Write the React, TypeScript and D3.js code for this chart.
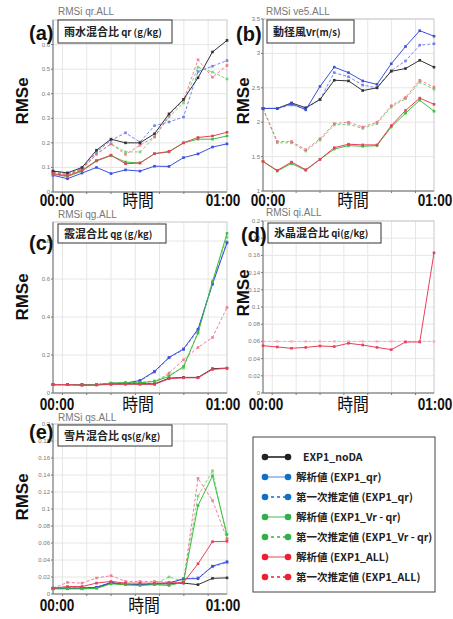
import React from "react";
import * as d3 from "d3";

// time steps 00:00 .. 01:00 every 5 minutes
const steps = d3.range(13);
const vGrid = d3.range(7).map((k) => 0.65 + 1.675 * k);

// (a) rain mixing ratio qr
const qrNoDA = [0.085, 0.078, 0.10, 0.17, 0.215, 0.20, 0.20, 0.237, 0.318, 0.377, 0.465, 0.57, 0.617];
const qrQrAna = [0.068, 0.054, 0.077, 0.10, 0.075, 0.09, 0.085, 0.105, 0.104, 0.14, 0.155, 0.183, 0.196];
const qrQrFg = [0.085, 0.075, 0.095, 0.163, 0.21, 0.241, 0.203, 0.27, 0.285, 0.305, 0.49, 0.512, 0.535];
const qrVrAna = [0.072, 0.063, 0.085, 0.126, 0.148, 0.122, 0.118, 0.156, 0.163, 0.2, 0.215, 0.215, 0.228];
const qrVrFg = [0.08, 0.07, 0.092, 0.156, 0.196, 0.163, 0.163, 0.224, 0.305, 0.362, 0.508, 0.488, 0.46];
const qrAllAna = [0.075, 0.066, 0.088, 0.128, 0.15, 0.115, 0.118, 0.156, 0.165, 0.2, 0.222, 0.228, 0.243];
const qrAllFg = [0.08, 0.07, 0.092, 0.153, 0.196, 0.153, 0.19, 0.224, 0.312, 0.373, 0.538, 0.467, 0.515];

// (b) radial wind Vr
const vrNoDA = [2.2, 2.2, 2.28, 2.21, 2.33, 2.61, 2.6, 2.46, 2.5, 2.74, 2.78, 2.9, 2.8];
const vrQrAna = [2.2, 2.2, 2.27, 2.18, 2.52, 2.8, 2.72, 2.6, 2.55, 2.85, 3.1, 3.33, 3.25];
const vrQrFg = [2.2, 2.2, 2.25, 2.2, 2.33, 2.72, 2.66, 2.54, 2.5, 2.75, 2.89, 3.12, 3.14];
const vrVrAna = [1.43, 1.29, 1.4, 1.3, 1.46, 1.61, 1.66, 1.65, 1.66, 1.93, 2.13, 2.32, 2.16];
const vrVrFg = [2.2, 1.7, 1.7, 1.58, 1.74, 1.96, 1.97, 1.91, 1.98, 2.22, 2.34, 2.58, 2.48];
const vrAllAna = [1.43, 1.3, 1.42, 1.31, 1.46, 1.63, 1.68, 1.67, 1.67, 1.95, 2.17, 2.35, 2.26];
const vrAllFg = [2.2, 1.72, 1.72, 1.6, 1.76, 1.98, 2.0, 1.93, 2.0, 2.24, 2.36, 2.61, 2.51];

// (c) graupel mixing ratio qg
const qgNoDA = [0.044, 0.044, 0.043, 0.043, 0.047, 0.048, 0.048, 0.048, 0.078, 0.082, 0.082, 0.128, 0.131];
const qgQrAna = [0.044, 0.044, 0.043, 0.044, 0.05, 0.052, 0.066, 0.114, 0.187, 0.232, 0.336, 0.573, 0.79];
const qgQrFg = [0.044, 0.044, 0.043, 0.044, 0.05, 0.052, 0.064, 0.11, 0.185, 0.228, 0.33, 0.576, 0.795];
const qgVrAna = [0.044, 0.044, 0.043, 0.044, 0.052, 0.054, 0.054, 0.061, 0.087, 0.14, 0.315, 0.585, 0.84];
const qgVrFg = [0.044, 0.044, 0.043, 0.044, 0.052, 0.054, 0.056, 0.064, 0.096, 0.131, 0.323, 0.59, 0.82];
const qgAllAna = [0.044, 0.044, 0.042, 0.042, 0.045, 0.046, 0.046, 0.045, 0.075, 0.08, 0.08, 0.124, 0.13];
const qgAllFg = [0.044, 0.044, 0.043, 0.044, 0.05, 0.05, 0.05, 0.052, 0.105, 0.175, 0.24, 0.292, 0.45];

// (d) ice mixing ratio qi
const qiAllAna = [0.055, 0.0535, 0.052, 0.053, 0.0547, 0.054, 0.0578, 0.0558, 0.053, 0.0504, 0.0593, 0.0593, 0.163];
const qiAllFg = [0.06, 0.06, 0.06, 0.06, 0.06, 0.06, 0.06, 0.06, 0.06, 0.06, 0.06, 0.06, 0.06];

// (e) snow mixing ratio qs
const qsNoDA = [0.0068, 0.0068, 0.0068, 0.0076, 0.0128, 0.011, 0.011, 0.0116, 0.012, 0.0128, 0.011, 0.0184, 0.019];
const qsQrAna = [0.0068, 0.0068, 0.0068, 0.0078, 0.0136, 0.011, 0.011, 0.012, 0.0128, 0.018, 0.018, 0.0328, 0.038];
const qsQrFg = [0.0068, 0.0068, 0.0068, 0.008, 0.0135, 0.0115, 0.0112, 0.0122, 0.013, 0.0178, 0.019, 0.032, 0.037];
const qsVrAna = [0.006, 0.006, 0.006, 0.0065, 0.012, 0.011, 0.01, 0.011, 0.01, 0.014, 0.104, 0.139, 0.07];
const qsVrFg = [0.006, 0.007, 0.007, 0.0075, 0.0125, 0.0115, 0.011, 0.012, 0.02, 0.015, 0.115, 0.145, 0.065];
const qsAllAna = [0.0068, 0.0088, 0.0088, 0.0128, 0.0148, 0.0128, 0.0128, 0.0128, 0.0128, 0.0136, 0.0356, 0.0616, 0.062];
const qsAllFg = [0.0068, 0.0136, 0.0128, 0.0188, 0.0216, 0.0148, 0.0148, 0.0148, 0.014, 0.014, 0.136, 0.11, 0.065];

const ticksA = [0, 0.1, 0.2, 0.3, 0.4, 0.5, 0.6];
const ticksB = [1, 1.5, 2, 2.5, 3, 3.5];
const ticksC = [0, 0.2, 0.4, 0.6, 0.8];
const ticksSmall = [0, 0.02, 0.04, 0.06, 0.08, 0.1, 0.12, 0.14, 0.16, 0.18, 0.2];

const legendLabels = [
  "EXP1_noDA",
  "解析値 (EXP1_qr)",
  "第一次推定値 (EXP1_qr)",
  "解析値 (EXP1_Vr - qr)",
  "第一次推定値 (EXP1_Vr - qr)",
  "解析値 (EXP1_ALL)",
  "第一次推定値 (EXP1_ALL)",
];

type Style = { color: string; dash?: string; opacity?: number };
const styles: Record<string, Style> = {
  noDA: { color: "#333333" },
  qrAna: { color: "#3b4fe0" },
  qrFg: { color: "#5566ee", dash: "3,2", opacity: 0.8 },
  vrAna: { color: "#3cbf3c" },
  vrFg: { color: "#5ccc5c", dash: "3,2", opacity: 0.8 },
  allAna: { color: "#e8405a" },
  allFg: { color: "#f0607c", dash: "3,2", opacity: 0.8 },
  allFgFaint: { color: "#f08aa0", dash: "3,2", opacity: 0.55 },
};
const legendStyles = [
  { color: "#222222", line: "#222222" },
  { color: "#1070c8", line: "#8ab8e4" },
  { color: "#1070c8", line: "#1070c8", dash: "3,3" },
  { color: "#2fb04a", line: "#8fd49a" },
  { color: "#2fb04a", line: "#2fb04a", dash: "3,3" },
  { color: "#ec2030", line: "#f08a90" },
  { color: "#ec2030", line: "#ec2030", dash: "3,3" },
];

const FONT = "'Liberation Sans', 'Noto Sans CJK JP', sans-serif";
const JP = "'Noto Sans CJK JP', 'Liberation Sans', sans-serif";

type PanelDef = {
  left: number; right: number; top: number; bottom: number;
  domain: [number, number]; ticks: number[]; fmt: (v: number) => string;
  series: { key: string; values: number[] }[];
  title: string; titlePos: [number, number];
  letter: string; letterPos: [number, number];
  box: [number, number, number, number]; boxText: [string, string];
  ylab: [number, number];
  xlab: { y: number; start: number; mid: number; end: number };
};

const fmt = (v: number) => d3.format("~g")(v);

const panels: PanelDef[] = [
  {
    left: 53, right: 227, top: 20, bottom: 192, domain: [0, 0.7], ticks: ticksA, fmt,
    series: [
      { key: "qrFg", values: qrQrFg }, { key: "vrFg", values: qrVrFg }, { key: "allFg", values: qrAllFg },
      { key: "noDA", values: qrNoDA }, { key: "qrAna", values: qrQrAna }, { key: "vrAna", values: qrVrAna },
      { key: "allAna", values: qrAllAna },
    ],
    title: "RMSi qr.ALL", titlePos: [58, 15], letter: "(a)", letterPos: [29, 40],
    box: [58, 20, 114, 23], boxText: ["雨水混合比", " qr (g/kg)"], ylab: [22, 101],
    xlab: { y: 206, start: 57, mid: 138, end: 223 },
  },
  {
    left: 263, right: 434, top: 19, bottom: 191, domain: [1, 3.5], ticks: ticksB, fmt,
    series: [
      { key: "qrFg", values: vrQrFg }, { key: "vrFg", values: vrVrFg }, { key: "allFg", values: vrAllFg },
      { key: "noDA", values: vrNoDA }, { key: "qrAna", values: vrQrAna }, { key: "vrAna", values: vrVrAna },
      { key: "allAna", values: vrAllAna },
    ],
    title: "RMSi ve5.ALL", titlePos: [266, 15], letter: "(b)", letterPos: [236, 41],
    box: [267, 20, 87, 23], boxText: ["動径風", "Vr(m/s)"], ylab: [243, 101],
    xlab: { y: 206, start: 268, mid: 353, end: 435 },
  },
  {
    left: 53, right: 227, top: 222, bottom: 393, domain: [0, 0.9], ticks: ticksC, fmt,
    series: [
      { key: "qrFg", values: qgQrFg }, { key: "vrFg", values: qgVrFg }, { key: "allFg", values: qgAllFg },
      { key: "noDA", values: qgNoDA }, { key: "qrAna", values: qgQrAna }, { key: "vrAna", values: qgVrAna },
      { key: "allAna", values: qgAllAna },
    ],
    title: "RMSi qg.ALL", titlePos: [58, 218], letter: "(c)", letterPos: [29, 250],
    box: [58, 224, 108, 19], boxText: ["霰混合比", " qg (g/kg)"], ylab: [22, 297],
    xlab: { y: 410, start: 57, mid: 138, end: 223 },
  },
  {
    left: 263, right: 434, top: 221, bottom: 393, domain: [0, 0.2], ticks: ticksSmall, fmt,
    series: [
      { key: "allFgFaint", values: qiAllFg }, { key: "allAna", values: qiAllAna },
    ],
    title: "RMSi qi.ALL", titlePos: [266, 216], letter: "(d)", letterPos: [241, 242],
    box: [268, 223, 113, 20], boxText: ["氷晶混合比", " qi(g/kg)"], ylab: [243, 293],
    xlab: { y: 410, start: 266, mid: 353, end: 435 },
  },
  {
    left: 53, right: 227, top: 424, bottom: 594, domain: [0, 0.2], ticks: ticksSmall, fmt,
    series: [
      { key: "qrFg", values: qsQrFg }, { key: "vrFg", values: qsVrFg }, { key: "allFg", values: qsAllFg },
      { key: "noDA", values: qsNoDA }, { key: "qrAna", values: qsQrAna }, { key: "vrAna", values: qsVrAna },
      { key: "allAna", values: qsAllAna },
    ],
    title: "RMSi qs.ALL", titlePos: [58, 421], letter: "(e)", letterPos: [29, 439],
    box: [58, 425, 114, 21], boxText: ["雪片混合比", " qs(g/kg)"], ylab: [22, 497],
    xlab: { y: 611, start: 57, mid: 144, end: 223 },
  },
];

function Panel({ p }: { p: PanelDef }) {
  const x = d3.scaleLinear().domain([0, 12]).range([p.left, p.right]);
  const y = d3.scaleLinear().domain(p.domain).range([p.bottom, p.top]);
  const line = d3.line<number>().x((_, i) => x(steps[i])).y((d) => y(d));
  const [bx, by, bw, bh] = p.box;
  return (
    <g>
      {/* grid */}
      {p.ticks.map((t) => (
        <line key={"h" + t} x1={p.left} x2={p.right} y1={y(t)} y2={y(t)} stroke="#e6e6e6" strokeWidth={1} />
      ))}
      {vGrid.map((g) => (
        <line key={"v" + g} x1={x(g)} x2={x(g)} y1={p.top} y2={p.bottom} stroke="#e6e6e6" strokeWidth={1} />
      ))}
      <rect x={p.left} y={p.top} width={p.right - p.left} height={p.bottom - p.top} fill="none" stroke="#c8c8c8" />
      <line x1={p.left} x2={p.left} y1={p.top} y2={p.bottom} stroke="#777" />
      <line x1={p.left} x2={p.right} y1={p.bottom} y2={p.bottom} stroke="#777" />
      {p.ticks.map((t) => (
        <g key={"t" + t}>
          <line x1={p.left - 2} x2={p.left} y1={y(t)} y2={y(t)} stroke="#777" />
          <text x={p.left - 3} y={y(t) + 2} fontSize={6} fill="#777" textAnchor="end" fontFamily={FONT}>
            {p.fmt(t)}
          </text>
        </g>
      ))}
      {vGrid.map((g) => (
        <line key={"bt" + g} x1={x(g)} x2={x(g)} y1={p.bottom} y2={p.bottom + 2} stroke="#777" />
      ))}
      {/* series */}
      {p.series.map((s) => {
        const st = styles[s.key];
        return (
          <g key={s.key} opacity={st.opacity ?? 1}>
            <path d={line(s.values) || ""} fill="none" stroke={st.color} strokeWidth={1} strokeDasharray={st.dash} />
            {s.values.map((v, i) => (
              <rect key={i} x={x(steps[i]) - 1.3} y={y(v) - 1.3} width={2.6} height={2.6} fill={st.color} />
            ))}
          </g>
        );
      })}
      {/* annotations */}
      <text x={p.titlePos[0]} y={p.titlePos[1]} fontSize={10} fill="#777" fontFamily={FONT}>{p.title}</text>
      <rect x={bx} y={by} width={bw} height={bh} fill="#fff" stroke="#333" strokeWidth={1} />
      <text x={bx + 6} y={by + bh / 2 + 4} fontFamily={JP} fontWeight="bold" fill="#222">
        <tspan fontSize={11}>{p.boxText[0]}</tspan>
        <tspan fontSize={9.5}>{p.boxText[1]}</tspan>
      </text>
      <text x={p.letterPos[0]} y={p.letterPos[1]} fontSize={20} fontWeight="bold" fill="#111" fontFamily={FONT}>
        {p.letter}
      </text>
      <text
        transform={`translate(${p.ylab[0] + 6},${p.ylab[1]}) rotate(-90)`}
        textAnchor="middle" fontSize={17} fontWeight="bold" fill="#111" fontFamily={FONT}
      >
        RMSe
      </text>
      <text transform={`translate(${p.xlab.start},${p.xlab.y}) scale(0.8,1)`} textAnchor="middle"
        fontSize={17} fontWeight="bold" fill="#111" fontFamily={FONT}>00:00</text>
      <text transform={`translate(${p.xlab.mid},${p.xlab.y + 1}) scale(0.88,1)`} textAnchor="middle"
        fontSize={18} fill="#111" fontFamily={JP}>時間</text>
      <text transform={`translate(${p.xlab.end},${p.xlab.y}) scale(0.8,1)`} textAnchor="middle"
        fontSize={17} fontWeight="bold" fill="#111" fontFamily={FONT}>01:00</text>
    </g>
  );
}

function Legend() {
  const rowY = d3.scaleLinear().domain([0, 6]).range([457, 577]);
  return (
    <g>
      <rect x={253} y={437} width={182} height={155} fill="#fff" stroke="#444" strokeWidth={1} />
      {legendLabels.map((lab, i) => {
        const st = legendStyles[i];
        const yy = rowY(i);
        return (
          <g key={lab}>
            <line x1={265} x2={288} y1={yy} y2={yy} stroke={st.line} strokeWidth={1.6} strokeDasharray={st.dash} />
            <circle cx={265} cy={yy} r={3.3} fill={st.color} />
            <circle cx={288} cy={yy} r={3.3} fill={st.color} />
            <text x={i === 0 ? 303 : 296} y={yy + 4} fontSize={10.5} fontWeight="bold" fill="#222" fontFamily={JP}>
              {lab}
            </text>
          </g>
        );
      })}
    </g>
  );
}

export default function App() {
  return (
    <svg width={453} height={619} style={{ position: "absolute", left: 0, top: 0, background: "#fff" }}>
      <rect width={453} height={619} fill="#fff" />
      {panels.map((p, i) => (
        <Panel key={i} p={p} />
      ))}
      <Legend />
    </svg>
  );
}
